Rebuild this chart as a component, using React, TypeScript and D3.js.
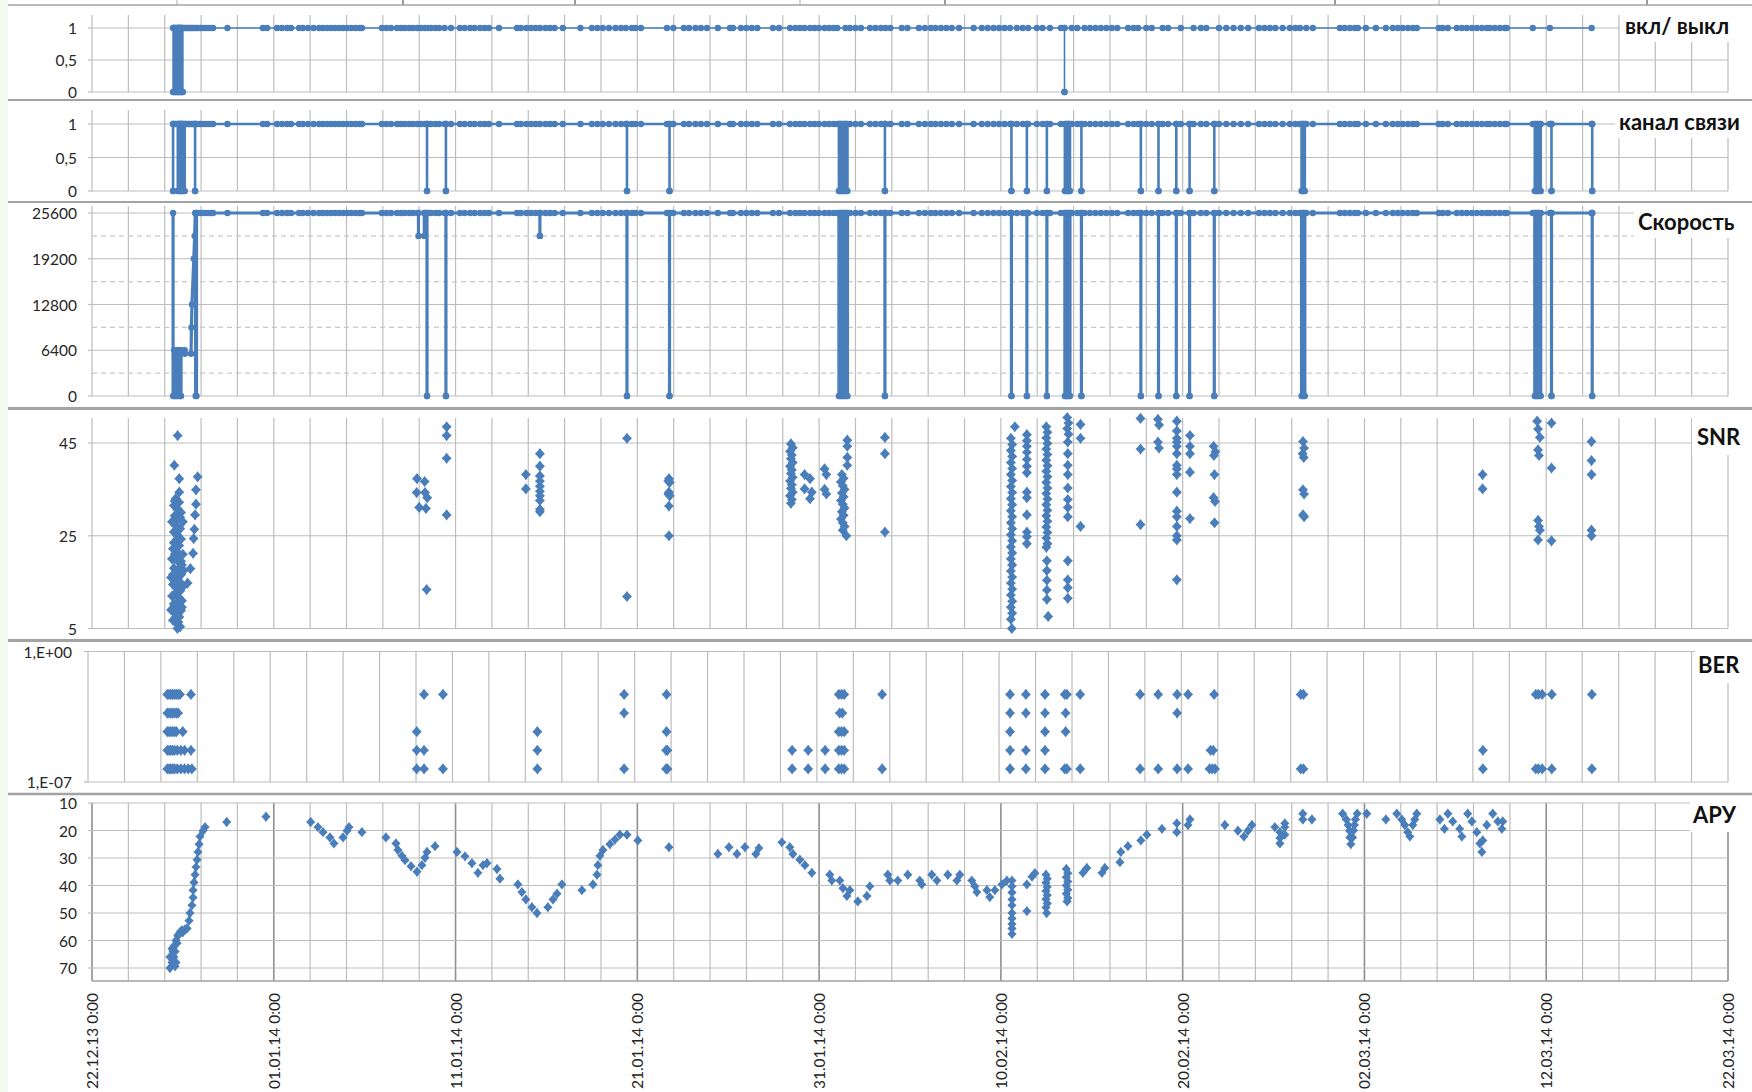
import React from "react";
import * as d3 from "d3";

// all times are days since 22.12.13 0:00
const dateTicks = [
  "22.12.13 0:00", "01.01.14 0:00", "11.01.14 0:00", "21.01.14 0:00", "31.01.14 0:00",
  "10.02.14 0:00", "20.02.14 0:00", "02.03.14 0:00", "12.03.14 0:00", "22.03.14 0:00",
];
const onOffTicks = ["0", "0,5", "1"];
const speedTicks = [0, 6400, 12800, 19200, 25600];
const snrTicks = [5, 25, 45];
const berTicks = ["1,E-07", "1,E+00"];
const apyTicks = [10, 20, 30, 40, 50, 60, 70];

// modem polls in the first hours (only on/off and link panels)
const startTop = [4.5, 4.58, 4.66, 4.74, 4.82, 4.9, 4.98, 5.06, 5.14, 5.22, 5.3, 5.38, 5.46, 5.54, 5.62, 5.72];

// regular polls, value = nominal (1 / 25600)
const pollDays = [
  5.8, 5.95, 6.1, 6.25, 6.4, 6.55, 6.66, 7.45,
  9.4, 9.63, 10.18, 10.45, 10.73, 10.95, 11.39, 11.6, 11.88, 12.19, 12.49, 12.7, 12.93, 13.15,
  13.37, 13.6, 13.82, 14.04, 14.26, 14.5, 14.73, 14.85, 15.95, 16.2, 16.45, 16.78, 17.0, 17.2,
  17.45, 17.65, 17.9, 18.1, 18.3, 18.48, 18.65, 18.9, 19.1, 19.4, 19.75, 20.24, 20.5, 20.8,
  21.05, 21.35, 21.6, 21.84, 22.39, 23.38, 23.6, 23.9, 24.15, 24.4, 24.65, 24.95, 25.2, 25.45,
  25.9, 26.87, 27.5, 27.8, 28.1, 28.44, 28.8, 29.1, 29.37, 29.7, 29.9, 30.2, 31.63, 31.98,
  32.56, 32.85, 33.2, 33.5, 33.83, 34.43, 35.1, 35.26, 35.7, 36.0, 36.3, 36.6, 37.46, 37.79,
  38.4, 38.7, 38.95, 39.2, 39.5, 39.75, 39.99, 40.3, 40.55, 40.8, 41.0, 41.45, 41.7, 42.0,
  42.3, 42.8, 43.1, 43.4, 43.65, 43.92, 44.55, 44.86, 45.49, 45.82, 46.15, 46.4, 46.7, 47.0,
  47.3, 47.7, 48.5, 48.95, 49.28, 49.6, 49.9, 50.2, 50.5, 50.88, 51.2, 51.5, 51.98, 52.29,
  52.7, 53.3, 53.9, 54.2, 54.6, 54.9, 55.2, 55.5, 55.8, 56.1, 56.4, 57.0, 57.3, 57.55, 58.0,
  58.3, 58.9, 59.2, 59.9, 60.6, 61.0, 61.3, 62.0, 62.4, 62.8, 63.2, 63.6, 64.2, 64.5, 64.8,
  65.1, 65.5, 65.9, 66.2, 66.45, 66.8, 67.16, 68.65, 68.92, 69.2, 69.47, 69.64, 70.08, 70.63,
  71.18, 71.56, 71.84, 72.11, 72.39, 72.66, 72.88, 74.09, 74.31, 74.59, 75.08, 75.36, 75.63,
  75.91, 76.18, 76.46, 76.73, 76.9, 77.17, 77.45, 77.72, 77.83, 79.26, 80.2, 82.5,
];

// [from, to] where the value fell to 0
const powerDrops = [
  [4.46, 4.5], [4.55, 4.6], [4.65, 4.7], [4.75, 4.8], [4.85, 4.9], [4.95, 5.0], [53.5, 53.5],
];
const linkDrops = [
  [4.46, 4.46], [4.72, 4.77], [4.82, 4.87], [4.92, 4.97], [5.02, 5.1], [5.67, 5.67],
  [18.43, 18.43], [19.47, 19.47], [29.43, 29.43], [31.77, 31.77],
  [41.09, 41.14], [41.2, 41.26], [41.33, 41.4], [41.48, 41.56], [43.62, 43.62],
  [50.58, 50.58], [51.43, 51.43], [52.53, 52.53], [53.52, 53.57], [53.63, 53.68], [53.75, 53.8],
  [54.43, 54.43], [57.7, 57.7], [58.67, 58.67], [59.65, 59.65], [60.38, 60.38], [61.74, 61.74],
  [66.54, 66.6], [66.66, 66.72], [79.37, 79.42], [79.5, 79.54], [79.64, 79.7], [80.29, 80.29],
  [82.53, 82.53],
];
// speed ramp after the first connection
const speedStart = [
  [4.46, 25600], [4.46, 0], [4.52, 0], [4.52, 6400], [4.58, 6400], [4.58, 0], [4.64, 0],
  [4.64, 6400], [4.7, 6400], [4.7, 0], [4.76, 0], [4.76, 6400], [4.85, 6400], [4.85, 0],
  [4.9, 0], [4.9, 6400], [5.1, 6400], [5.1, 5900], [5.45, 5900], [5.47, 9600], [5.5, 12800],
  [5.6, 19200], [5.65, 22400], [5.68, 25600], [5.7, 25600], [5.7, 0], [5.75, 0], [5.75, 25600],
];
// [from, to, value] partial speed drops
const speedDips = [[17.96, 18.28, 22400], [24.64, 24.64, 22400]];

const snrPoints = [
  [4.71, 46.6], [4.53, 40.2], [4.8, 37.3], [4.8, 34.4],
  [4.6, 33], [4.8, 32.2], [4.5, 31.5], [4.7, 30.8], [4.9, 30], [4.55, 29.3], [4.75, 28.6],
  [4.45, 27.9], [4.65, 27.2], [4.85, 26.5], [4.5, 25.8], [4.7, 25], [4.9, 24.3], [4.6, 23.6],
  [4.8, 22.9], [4.45, 22.2], [4.65, 21.5], [4.85, 20.8], [4.55, 20.1], [4.75, 19.4], [4.95, 18.7],
  [4.5, 18], [4.7, 17.3], [4.9, 16.6], [4.6, 15.9], [4.8, 15.2], [4.45, 14.5], [4.65, 13.8],
  [4.85, 13.1], [4.55, 12.4], [4.75, 11.7], [4.95, 11], [4.5, 10.3], [4.7, 9.6], [4.9, 8.9],
  [4.6, 8.2], [4.8, 7.5], [4.45, 6.8], [4.65, 6.1], [4.85, 5.4], [4.7, 5],
  [4.4, 28], [4.4, 20], [4.4, 12], [5.0, 28], [5.0, 21], [5.0, 14], [5.05, 17.5], [4.35, 16], [4.35, 9],
  [4.55, 32.5], [4.85, 29], [4.6, 26.2], [4.8, 24], [4.55, 21], [4.75, 17.8], [4.6, 14.2],
  [4.8, 11], [4.55, 8.5], [4.75, 6.4], [4.5, 23.5], [4.9, 19.5], [4.45, 16.6], [4.95, 9.6],
  [5.81, 37.7], [5.72, 34.9], [5.72, 31.8], [5.67, 29.5], [5.63, 26.4], [5.59, 24.4], [5.56, 21.2],
  [5.41, 17.9], [5.26, 14.8],
  [17.88, 37.3], [18.3, 36.7], [17.86, 34.3], [18.32, 34.3], [18.44, 33.2], [18.0, 31.1],
  [18.37, 30.9], [18.41, 13.4], [19.51, 48.5], [19.51, 46.6], [19.51, 41.7], [19.51, 29.5],
  [23.87, 38.2], [23.87, 35.1], [24.64, 42.7], [24.64, 40], [24.64, 37.9], [24.64, 36.8],
  [24.64, 35.7], [24.64, 34.6], [24.64, 33.6], [24.64, 32.6], [24.64, 30.7], [24.64, 30.2],
  [29.43, 46], [29.43, 11.9],
  [31.74, 37.3], [31.7, 36.8], [31.78, 36.5], [31.74, 34.4], [31.7, 34], [31.78, 33.6], [31.74, 31.4], [31.74, 25],
  [38.45, 44.8], [38.55, 44], [38.4, 43.2], [38.5, 42.4], [38.45, 41.6], [38.55, 40.8], [38.4, 40],
  [38.5, 39.2], [38.45, 38.4], [38.55, 37.6], [38.4, 36.8], [38.5, 36], [38.45, 35.2], [38.55, 34.4],
  [38.4, 33.6], [38.5, 32.8], [38.45, 32],
  [39.2, 38.2], [39.5, 37.3], [39.2, 35.1], [39.6, 34.4], [39.5, 33],
  [40.3, 39.4], [40.4, 38.2], [40.3, 35], [40.4, 34],
  [41.25, 38.2], [41.35, 37.4], [41.2, 36.6], [41.3, 35.8], [41.4, 35], [41.25, 34.2], [41.35, 33.4],
  [41.2, 32.6], [41.3, 31.8], [41.4, 31], [41.25, 30.2], [41.35, 29.4], [41.2, 28.6], [41.3, 27.8],
  [41.4, 27], [41.3, 26.2], [41.55, 45.6], [41.55, 44.3], [41.55, 41.9], [41.55, 40.2], [41.5, 25],
  [43.62, 46.2], [43.62, 42.7], [43.62, 25.8],
  [50.55, 46], [50.62, 44.7], [50.55, 43.4], [50.62, 42.1], [50.55, 40.8], [50.62, 39.5], [50.55, 38.2],
  [50.62, 36.9], [50.55, 35.6], [50.62, 34.3], [50.55, 33], [50.62, 31.7], [50.55, 30.4], [50.62, 29.1],
  [50.55, 27.8], [50.62, 26.5], [50.55, 25.2], [50.62, 23.9], [50.55, 22.6], [50.62, 21.3], [50.55, 20],
  [50.62, 18.7], [50.55, 17.4], [50.62, 16.1], [50.55, 14.8], [50.62, 13.5], [50.55, 12.2], [50.62, 10.9],
  [50.55, 9.6], [50.62, 8.3], [50.55, 7], [50.6, 5], [50.77, 48.5],
  [51.43, 46.8], [51.43, 45.5], [51.43, 44.3], [51.43, 43], [51.43, 41.5], [51.43, 40], [51.43, 38.6],
  [51.43, 34.4], [51.43, 33.2], [51.43, 29.5], [51.43, 25.8], [51.43, 24.8], [51.43, 23.3],
  [52.5, 48.5], [52.56, 47.3], [52.5, 46.1], [52.56, 44.9], [52.5, 43.7], [52.56, 42.5], [52.5, 41.3],
  [52.56, 40.1], [52.5, 38.9], [52.56, 37.7], [52.5, 36.5], [52.56, 35.3], [52.5, 34.1], [52.56, 32.9],
  [52.5, 31.7], [52.56, 30.5], [52.5, 29.3], [52.56, 28.1], [52.5, 26.9], [52.56, 25.7], [52.5, 24.5],
  [52.56, 23.3], [52.5, 22.5], [52.53, 19.6], [52.53, 17.5], [52.53, 15.4], [52.53, 13.3], [52.53, 11.3],
  [52.6, 7.6],
  [53.65, 50.5], [53.72, 49.3], [53.65, 48.1], [53.72, 46.9], [53.68, 45.2], [53.68, 42.7], [53.68, 40.2],
  [53.68, 38.2], [53.68, 35.3], [53.68, 32.8], [53.68, 31.1], [53.68, 29.1], [53.68, 19.6], [53.68, 15.5],
  [53.68, 13.8], [53.68, 11.5], [54.38, 49], [54.38, 46], [54.38, 27],
  [57.68, 50.3], [57.68, 43.7], [57.68, 27.4],
  [58.64, 50.1], [58.7, 48.9], [58.64, 45.2], [58.7, 43.9],
  [59.68, 49.7], [59.68, 47.6], [59.68, 46], [59.68, 45.2], [59.68, 44.3], [59.68, 42.7], [59.68, 40.2],
  [59.68, 39.4], [59.68, 38.2], [59.68, 34.4], [59.68, 30.3], [59.68, 29.1], [59.68, 27], [59.68, 25],
  [59.68, 24.1], [59.68, 15.5],
  [60.4, 46.6], [60.4, 44.3], [60.4, 42.7], [60.4, 38.7], [60.4, 28.7],
  [61.7, 44.3], [61.8, 43.1], [61.72, 42.3], [61.75, 38.2], [61.7, 33.2], [61.78, 32.4], [61.75, 27.8],
  [66.62, 45.3], [66.68, 43.9], [66.6, 42.7], [66.66, 41.9], [66.62, 34.9], [66.68, 34], [66.62, 29.5], [66.68, 29.1],
  [76.5, 38.2], [76.5, 35.1],
  [79.5, 49.7], [79.55, 48], [79.65, 46.2], [79.55, 43.5], [79.6, 42.3], [79.55, 28.3], [79.6, 27],
  [79.65, 26.2], [79.55, 24.1],
  [80.29, 49.3], [80.29, 39.6], [80.29, 23.9],
  [82.49, 45.3], [82.49, 41.2], [82.49, 38.2], [82.49, 26.2], [82.49, 25],
];

// BER rows: 5e-3 ... 5e-7
const berPoints = [
  [4.35, 5e-3], [4.45, 5e-3], [4.55, 5e-3], [4.65, 5e-3], [4.75, 5e-3], [4.85, 5e-3], [4.95, 5e-3], [5.05, 5e-3], [5.65, 5e-3],
  [4.35, 5e-4], [4.45, 5e-4], [4.55, 5e-4], [4.65, 5e-4], [4.75, 5e-4], [4.85, 5e-4], [4.95, 5e-4],
  [4.35, 5e-5], [4.45, 5e-5], [4.55, 5e-5], [4.65, 5e-5], [4.75, 5e-5], [4.85, 5e-5], [5.2, 5e-5],
  [4.35, 5e-6], [4.45, 5e-6], [4.55, 5e-6], [4.65, 5e-6], [4.75, 5e-6], [4.9, 5e-6], [5.1, 5e-6], [5.3, 5e-6], [5.65, 5e-6],
  [4.35, 5e-7], [4.45, 5e-7], [4.55, 5e-7], [4.65, 5e-7], [4.75, 5e-7], [4.9, 5e-7], [5.1, 5e-7], [5.3, 5e-7], [5.5, 5e-7], [5.7, 5e-7],
  [18.04, 5e-5], [18.04, 5e-6], [18.04, 5e-7], [18.44, 5e-3], [18.44, 5e-6], [18.44, 5e-7], [19.48, 5e-3], [19.48, 5e-7],
  [24.66, 5e-5], [24.66, 5e-6], [24.66, 5e-7],
  [29.42, 5e-3], [29.42, 5e-4], [29.42, 5e-7],
  [31.75, 5e-3], [31.75, 5e-5], [31.72, 5e-6], [31.8, 5e-6], [31.72, 5e-7], [31.8, 5e-7],
  [38.64, 5e-6], [38.64, 5e-7], [39.52, 5e-6], [39.52, 5e-7], [40.45, 5e-6], [40.45, 5e-7],
  [41.2, 5e-3], [41.35, 5e-3], [41.5, 5e-3], [41.25, 5e-4], [41.4, 5e-4], [41.2, 5e-5], [41.35, 5e-5],
  [41.5, 5e-5], [41.2, 5e-6], [41.35, 5e-6], [41.5, 5e-6], [41.2, 5e-7], [41.35, 5e-7], [41.5, 5e-7],
  [43.58, 5e-3], [43.58, 5e-7],
  [50.6, 5e-3], [50.6, 5e-4], [50.6, 5e-5], [50.6, 5e-6], [50.6, 5e-7],
  [51.47, 5e-3], [51.47, 5e-4], [51.47, 5e-6], [51.47, 5e-7],
  [52.52, 5e-3], [52.52, 5e-4], [52.52, 5e-5], [52.52, 5e-6], [52.52, 5e-7],
  [53.6, 5e-3], [53.72, 5e-3], [53.65, 5e-4], [53.65, 5e-5], [53.6, 5e-7], [53.72, 5e-7],
  [54.45, 5e-3], [54.45, 5e-7], [57.74, 5e-3], [57.74, 5e-7], [58.73, 5e-3], [58.73, 5e-7],
  [59.77, 5e-3], [59.77, 5e-4], [59.77, 5e-7], [60.37, 5e-3], [60.37, 5e-7],
  [61.8, 5e-3], [61.6, 5e-6], [61.75, 5e-6], [61.55, 5e-7], [61.7, 5e-7], [61.85, 5e-7],
  [66.55, 5e-3], [66.7, 5e-3], [66.55, 5e-7], [66.7, 5e-7],
  [76.55, 5e-6], [76.55, 5e-7],
  [79.45, 5e-3], [79.6, 5e-3], [79.8, 5e-3], [79.45, 5e-7], [79.6, 5e-7], [79.8, 5e-7],
  [80.33, 5e-3], [80.33, 5e-7], [82.53, 5e-3], [82.53, 5e-7],
];

const apyPoints = [
  [4.57, 69.4], [4.46, 67.4], [4.57, 64], [4.68, 61], [4.73, 58.3], [4.95, 56.2], [5.23, 55.6],
  [5.34, 52.8], [5.39, 50], [5.5, 47.2], [5.56, 44.4], [5.56, 41.7], [5.61, 38.9], [5.67, 36.1],
  [5.72, 33.3], [5.78, 30.6], [5.83, 27.8], [5.89, 25], [5.94, 22.2], [6.11, 20.1], [6.22, 18.75],
  [4.29, 70], [4.4, 68], [4.29, 66], [4.46, 64], [4.51, 62], [4.62, 60], [4.73, 58], [4.84, 57],
  [5.0, 57], [5.12, 56], [4.4, 63], [4.51, 66], [4.62, 68], [4.4, 65.5],
  [7.41, 16.9], [9.57, 15], [12.03, 16.9], [12.43, 18.75], [12.71, 20.6], [13.09, 22.5], [13.31, 24.7],
  [13.81, 22.5], [14.03, 20.1], [14.14, 18.75], [14.85, 20.6], [16.17, 22.5], [16.72, 24.7],
  [16.83, 27.1], [17.05, 29.2], [17.22, 30.8], [17.55, 33], [17.88, 35], [18.15, 32.6], [18.32, 29.9],
  [18.43, 27.8], [18.87, 25.7], [20.08, 27.8], [20.52, 29.4], [20.9, 31.9], [21.23, 35.4],
  [21.51, 32.6], [21.73, 31.9], [22.28, 34], [22.44, 37.5], [23.43, 39.6], [23.65, 42.4],
  [23.87, 45.1], [24.2, 47.9], [24.48, 50], [25.08, 47.9], [25.36, 45.1], [25.58, 43], [25.85, 39.6],
  [26.95, 41.7], [27.56, 39.6], [27.78, 36.1], [27.83, 32.6], [27.94, 29.2], [28.11, 27.1],
  [28.49, 25], [28.77, 23.3], [29.04, 21.5], [29.43, 21.5], [30.03, 23.6], [31.74, 26.1],
  [34.43, 28.5], [35.04, 26.1], [35.48, 28.5], [35.92, 26.1], [36.52, 28.5], [36.69, 26.4],
  [37.95, 24.3], [38.39, 26.1], [38.56, 28.5], [38.94, 30.6], [39.22, 32.6], [39.6, 35.4],
  [40.59, 36.1], [40.7, 38.2], [41.14, 38.2], [41.31, 41], [41.53, 43.8], [41.69, 41.7],
  [42.13, 45.8], [42.63, 43.8], [42.79, 40.3], [43.78, 36.1], [43.89, 38.2], [44.33, 38.2],
  [44.88, 36.1], [45.54, 38.2], [45.65, 39.6], [46.2, 36.1], [46.48, 38.2], [47.08, 36.1],
  [47.58, 38.2], [47.74, 36.1], [48.4, 38.2], [48.57, 40.3], [48.68, 42.4], [49.23, 41.7],
  [49.39, 44.2], [49.67, 41.7], [50.06, 39.6], [50.33, 38.2],
  [50.61, 38.2], [50.61, 40.3], [50.61, 42.5], [50.61, 45.1], [50.61, 47.2], [50.61, 50],
  [50.61, 52], [50.61, 54], [50.61, 55.6], [50.61, 57.6],
  [51.43, 39.6], [51.43, 49.3], [51.71, 36.8], [51.87, 35.5],
  [52.48, 36.1], [52.55, 37.5], [52.48, 39], [52.55, 40.5], [52.48, 42], [52.55, 43.5],
  [52.48, 45], [52.55, 46.5], [52.48, 48], [52.52, 50],
  [53.6, 34], [53.68, 35.5], [53.6, 37], [53.68, 38.5], [53.6, 40], [53.68, 41.5], [53.6, 43],
  [53.68, 44.5], [53.64, 45.8],
  [54.51, 35.4], [54.73, 33.6], [55.56, 35.4], [55.72, 33.6], [56.55, 31.5], [56.6, 27.8],
  [56.99, 25.7], [57.7, 23.6], [58.03, 21.5], [58.86, 19.4], [59.68, 17.4], [59.68, 20.6],
  [60.29, 18], [60.4, 16],
  [62.32, 18], [63.04, 20.1], [63.37, 22.2], [63.59, 20.1], [63.81, 18],
  [65.07, 18.75], [65.35, 20.6], [65.35, 22.7], [65.35, 24.7], [65.62, 18.75], [65.62, 21.5], [65.62, 17.4],
  [66.61, 13.9], [66.61, 16], [67.11, 16],
  [68.8, 13.9], [69.0, 16], [69.1, 18], [69.18, 20.1], [69.2, 22.5], [69.25, 25], [69.35, 22.5],
  [69.4, 20], [69.45, 18], [69.5, 16], [69.6, 13.9], [70.13, 13.9],
  [71.18, 16], [71.78, 13.9], [72.05, 16], [72.22, 18], [72.38, 20.6], [72.5, 22.2], [72.66, 18],
  [72.77, 16], [72.88, 13.9],
  [74.15, 16], [74.4, 19.4], [74.59, 13.9], [74.86, 16.7], [75.24, 19.4], [75.36, 22.2], [75.68, 13.9],
  [75.91, 16.7], [76.18, 20.6], [76.35, 24.7], [76.46, 27.8], [76.51, 23.6], [76.73, 18], [77.06, 13.9],
  [77.34, 16.7], [77.56, 19.4], [77.61, 16.7],
];

// short tick stubs of the chart cut off above
const topStubs = [177, 403, 575, 800, 945, 1335, 1439, 1647];

const BLUE = "#4a7ebb";
const GRID = "#bdbdbd";
const FONT = "Lato, 'Open Sans', sans-serif";

const xMain = d3.scaleLinear().domain([0, 90]).range([92, 1728]);
const xBer = d3.scaleLinear().domain([0, 90]).range([88, 1728]);
const yPower = d3.scaleLinear().domain([0, 1]).range([92, 28]);
const yLink = d3.scaleLinear().domain([0, 1]).range([191, 124]);
const ySpeed = d3.scaleLinear().domain([0, 25600]).range([396, 213]);
const ySnr = d3.scaleLinear().domain([5, 45]).range([628.5, 443]);
const yBer = d3.scaleLog().domain([1e-7, 1]).range([782, 651.5]);
const yApy = d3.scaleLinear().domain([10, 70]).range([803, 968]);

const gridDays = d3.range(0, 91, 2);

function buildSeries(polls, hi, drops, extra = []) {
  const inside = (d) => drops.some(([s, e]) => d > s && d < e);
  const pts = polls.filter((d) => !inside(d)).map((d) => [d, hi]);
  drops.forEach(([s, e, v = 0]) => pts.push([s, hi], [s, v], [e, v], [e, hi]));
  extra.forEach((p) => pts.push(p));
  return pts
    .map((p, i) => ({ p, i }))
    .sort((a, b) => a.p[0] - b.p[0] || a.i - b.i)
    .map((o) => o.p);
}

// excel-like diamond marker with slightly hollow sides
const star = (r) => {
  const c = r * 0.45;
  const v = r * 1.12;
  return `M0,${-v}Q${c},${-c} ${r},0Q${c},${c} 0,${v}Q${-c},${c} ${-r},0Q${-c},${-c} 0,${-v}Z`;
};

function VGrid({ x, top, bottom, major = false }) {
  return (
    <g>
      {gridDays.map((d) => {
        const isMajor = major && d % 10 === 0;
        return (
          <line
            key={d}
            x1={x(d)}
            x2={x(d)}
            y1={top}
            y2={bottom}
            stroke={isMajor ? "#8f8f8f" : GRID}
            strokeWidth={isMajor ? 1.6 : 1.2}
          />
        );
      })}
    </g>
  );
}

function YLabels({ items, right, tickX }) {
  return (
    <g>
      {items.map(([label, y]) => (
        <g key={label}>
          <line x1={tickX - 4} x2={tickX} y1={y} y2={y} stroke={GRID} strokeWidth={1.2} />
          <text
            x={right}
            y={y}
            textAnchor="end"
            dominantBaseline="central"
            fontFamily={FONT}
            fontSize={15.5}
            fill="#262626"
          >
            {label}
          </text>
        </g>
      ))}
    </g>
  );
}

function LineSeries({ data, y, width }) {
  const line = d3
    .line()
    .x((d) => xMain(d[0]))
    .y((d) => y(d[1]));
  return (
    <g>
      <path d={line(data)} fill="none" stroke={BLUE} strokeWidth={width} strokeLinejoin="round" />
      {data.map((d, i) => (
        <circle key={i} cx={xMain(d[0])} cy={y(d[1])} r={3.2} fill={BLUE} />
      ))}
    </g>
  );
}

function Scatter({ data, x, y, r = 5 }) {
  const p = star(r);
  return (
    <g>
      {data.map((d, i) => (
        <path key={i} d={p} transform={`translate(${x(d[0])},${y(d[1])})`} fill={BLUE} />
      ))}
    </g>
  );
}

function Legend({ text, x, y1, y2, tx }) {
  return (
    <g>
      <rect x={x} y={y1} width={1752 - x} height={y2 - y1} fill="white" />
      <text
        x={tx}
        y={(y1 + y2) / 2}
        dominantBaseline="central"
        fontFamily={FONT}
        fontWeight={700}
        fontSize={22}
        fill="#111"
      >
        {text}
      </text>
    </g>
  );
}

function HLine({ y, x1 = 92, x2 = 1728, dash, color = GRID, w = 1.2 }) {
  return <line x1={x1} x2={x2} y1={y} y2={y} stroke={color} strokeWidth={w} strokeDasharray={dash} />;
}

export default function App() {
  const powerSeries = buildSeries([...startTop, ...pollDays], 1, powerDrops);
  const linkSeries = buildSeries([...startTop, ...pollDays], 1, linkDrops);
  const speedSeries = buildSeries(
    pollDays,
    25600,
    [...linkDrops.filter(([s]) => s > 6), ...speedDips],
    speedStart
  );
  const onOffY = [0, 0.5, 1];

  return (
    <svg
      width={1752}
      height={1092}
      style={{ position: "absolute", left: 0, top: 0, background: "white" }}
    >
      <rect x={0} y={0} width={8} height={1092} fill="#effbee" />
      {topStubs.map((x, i) => (
        <line key={i} x1={x} x2={x} y1={0} y2={5} stroke={i % 3 === 0 ? "#bbb" : "#555"} strokeWidth={1.2} />
      ))}

      {/* panel separators */}
      {[[5, 1.5], [100, 2], [202, 2], [408.5, 3], [640.5, 3], [794, 2.5]].map(([y, w]) => (
        <line key={y} x1={8} x2={1752} y1={y} y2={y} stroke="#a3a3a3" strokeWidth={w} />
      ))}

      {/* вкл/выкл */}
      <VGrid x={xMain} top={15} bottom={92} />
      {onOffY.map((v) => <HLine key={v} y={yPower(v)} />)}
      <YLabels items={onOffTicks.map((t, i) => [t, yPower(onOffY[i])])} right={77} tickX={92} />
      <LineSeries data={powerSeries} y={yPower} width={1.6} />
      <Legend text="вкл/ выкл" x={1620} y1={8} y2={42} tx={1625} />

      {/* канал связи */}
      <VGrid x={xMain} top={110} bottom={191} />
      {onOffY.map((v) => <HLine key={v} y={yLink(v)} />)}
      <YLabels items={onOffTicks.map((t, i) => [t, yLink(onOffY[i])])} right={77} tickX={92} />
      <LineSeries data={linkSeries} y={yLink} width={2.6} />
      <Legend text="канал связи" x={1615} y1={104} y2={138} tx={1619} />

      {/* Скорость */}
      <VGrid x={xMain} top={206} bottom={396} />
      {[3200, 9600, 16000, 22400].map((v) => (
        <HLine key={v} y={ySpeed(v)} dash="5,4" color="#c8c8c8" />
      ))}
      {speedTicks.map((v) => <HLine key={v} y={ySpeed(v)} />)}
      <YLabels items={speedTicks.map((v) => [String(v), ySpeed(v)])} right={77} tickX={92} />
      <LineSeries data={speedSeries} y={ySpeed} width={3.2} />
      <Legend text="Скорость" x={1634} y1={204} y2={238} tx={1638} />

      {/* SNR */}
      <VGrid x={xMain} top={418} bottom={628.5} />
      {snrTicks.map((v) => <HLine key={v} y={ySnr(v)} />)}
      <YLabels items={snrTicks.map((v) => [String(v), ySnr(v)])} right={77} tickX={92} />
      <Scatter data={snrPoints} x={xMain} y={ySnr} />
      <Legend text="SNR" x={1692} y1={418} y2={455} tx={1697} />

      {/* BER */}
      <VGrid x={xBer} top={651.5} bottom={782} />
      {[1e-7, 1].map((v) => <HLine key={v} y={yBer(v)} x1={88} />)}
      <YLabels items={berTicks.map((t, i) => [t, yBer([1e-7, 1][i])])} right={72} tickX={88} />
      <Scatter data={berPoints} x={xBer} y={yBer} />
      <Legend text="BER" x={1695} y1={645} y2={683} tx={1698} />

      {/* АРУ */}
      <VGrid x={xMain} top={803} bottom={981} major />
      {apyTicks.map((v) => <HLine key={v} y={yApy(v)} />)}
      <HLine y={981} color="#a0a0a0" w={1.4} />
      <YLabels items={apyTicks.map((v) => [String(v), yApy(v)])} right={77} tickX={92} />
      <Scatter data={apyPoints} x={xMain} y={yApy} r={4.6} />
      <Legend text="АРУ" x={1690} y1={796} y2={832} tx={1693} />

      {/* date axis */}
      {dateTicks.map((t, i) => (
        <text
          key={t}
          transform={`translate(${xMain(i * 10)},993) rotate(-90)`}
          textAnchor="end"
          dominantBaseline="central"
          fontFamily={FONT}
          fontSize={15.5}
          fill="#262626"
        >
          {t}
        </text>
      ))}
    </svg>
  );
}
